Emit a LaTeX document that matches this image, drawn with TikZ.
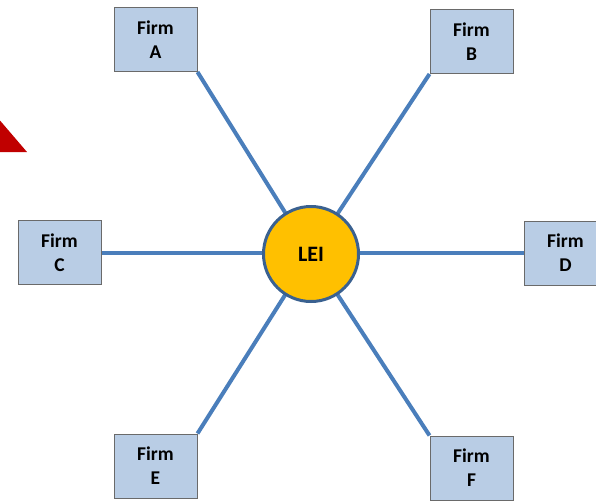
\documentclass[tikz,border=0pt]{standalone}
\usepackage{fontspec}
\setmainfont{Carlito}
\usetikzlibrary{backgrounds}
\definecolor{boxfill}{HTML}{B9CDE5}
\definecolor{boxline}{HTML}{6A6A6A}
\definecolor{linkblue}{HTML}{4A7EBB}
\definecolor{leifill}{HTML}{FFC000}
\definecolor{leiline}{HTML}{3A6190}
\definecolor{warnred}{HTML}{C00000}
\tikzset{
  firm/.style={draw=boxline, line width=1pt, fill=boxfill, minimum width=83pt, minimum height=64pt,
    inner sep=0pt, align=center, font=\fontsize{19.5}{24}\selectfont\bfseries},
  lei/.style={circle, draw=leiline, line width=3pt, fill=leifill, minimum size=95pt, inner sep=0pt,
    font=\fontsize{22}{26}\selectfont\bfseries},
  link/.style={draw=linkblue, line width=4pt}
}
\begin{document}
\begin{tikzpicture}[x=1pt,y=-1pt]
\clip (0,0) rectangle (596,500);
\fill[warnred] (0,120.5) -- (27,152) -- (0,152) -- cycle;
\node[lei] (L) at (311,254) {LEI};
\node[firm] (A) at (155.5,39.5) {Firm\\A};
\node[firm] (B) at (471.5,41.5) {Firm\\B};
\node[firm] (C) at (59.5,252.5) {Firm\\C};
\node[firm] (D) at (565.5,253) {Firm\\D};
\node[firm] (E) at (155.5,466) {Firm\\E};
\node[firm] (F) at (471.5,468) {Firm\\F};
\begin{scope}[on background layer]
\draw[link] (A.south east) -- (L.center);
\draw[link] (B.south west) -- (L.center);
\draw[link] (C.east) -- (C.east -| L.center);
\draw[link] (D.west) -- (D.west -| L.center);
\draw[link] (E.north east) -- (L.center);
\draw[link] (F.north west) -- (L.center);
\end{scope}
\end{tikzpicture}
\end{document}
